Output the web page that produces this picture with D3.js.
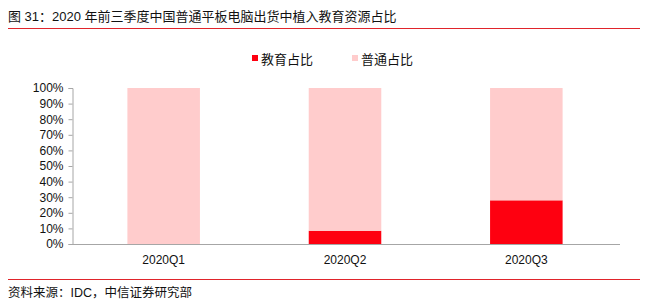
<!DOCTYPE html>
<html><head><meta charset="utf-8">
<script src="https://cdn.jsdelivr.net/npm/d3@7"></script>
<style>body{margin:0;background:#fff;} text{font-family:"Liberation Sans","Noto Sans CJK SC",sans-serif;}</style>
</head><body><svg id="c" width="645" height="303"></svg>
<script>
const categories = ["2020Q1","2020Q2","2020Q3"];
const eduShare = [0, 8.5, 28];
const normalShare = [100, 91.5, 72];
const seriesNames = ["教育占比","普通占比"];
const yTicks = [0,10,20,30,40,50,60,70,80,90,100];

const svg = d3.select("#c");
const cjk = '"Noto Sans CJK SC","Liberation Sans",sans-serif';
svg.append("text").attr("x",8).attr("y",21).attr("font-size",13).attr("font-family",cjk).attr("fill","#111")
  .text("图 31：2020 年前三季度中国普通平板电脑出货中植入教育资源占比");
svg.append("line").attr("x1",8).attr("x2",640).attr("y1",28.5).attr("y2",28.5).attr("stroke","#e0242b").attr("stroke-width",1);
svg.append("line").attr("x1",8).attr("x2",640).attr("y1",279.5).attr("y2",279.5).attr("stroke","#e0242b").attr("stroke-width",1);
svg.append("text").attr("x",8).attr("y",297).attr("font-size",12.5).attr("font-family",cjk).attr("fill","#111")
  .text("资料来源：IDC，中信证券研究部");

const x = d3.scaleBand().domain(categories).range([73,617]).paddingInner(0.6).paddingOuter(0.3);
const y = d3.scaleLinear().domain([0,100]).range([244,88]);
const colors = ["#fe0010","#ffcccc"];

const stackData = categories.map((c,i)=>({cat:c, edu:eduShare[i], normal:normalShare[i]}));
const stack = d3.stack().keys(["edu","normal"])(stackData);
svg.append("g").selectAll("g").data(stack).join("g").attr("fill",(d,i)=>colors[i])
  .selectAll("rect").data(d=>d).join("rect")
  .attr("x",d=>x(d.data.cat)).attr("width",x.bandwidth())
  .attr("y",d=>y(d[1])).attr("height",d=>y(d[0])-y(d[1]));

const yAxis = d3.axisLeft(y).tickValues(yTicks).tickFormat(d=>d+"%").tickSize(4).tickPadding(5);
const gy = svg.append("g").attr("transform","translate(72.5,0)").call(yAxis);
gy.select(".domain").attr("stroke","#a6a6a6");
gy.selectAll(".tick line").attr("stroke","#a6a6a6");
gy.selectAll(".tick text").attr("font-size",12).attr("fill","#111").attr("font-family","Liberation Sans, sans-serif");

const xAxis = d3.axisBottom(x).tickSize(0).tickPadding(11);
const gx = svg.append("g").attr("transform","translate(0,244.5)").call(xAxis);
gx.select(".domain").attr("stroke","#a6a6a6").attr("d","M72,0H620");
gx.selectAll(".tick text").attr("font-size",12).attr("fill","#111").attr("font-family","Liberation Sans, sans-serif");

const leg = svg.append("g");
const legX = [252, 352];
seriesNames.forEach((n,i)=>{
  leg.append("rect").attr("x",legX[i]).attr("y",55).attr("width",6).attr("height",6).attr("fill",colors[i]);
  leg.append("text").attr("x",legX[i]+9).attr("y",63.5).attr("font-size",13).attr("font-family",cjk).attr("fill","#111").text(n);
});
</script></body></html>
